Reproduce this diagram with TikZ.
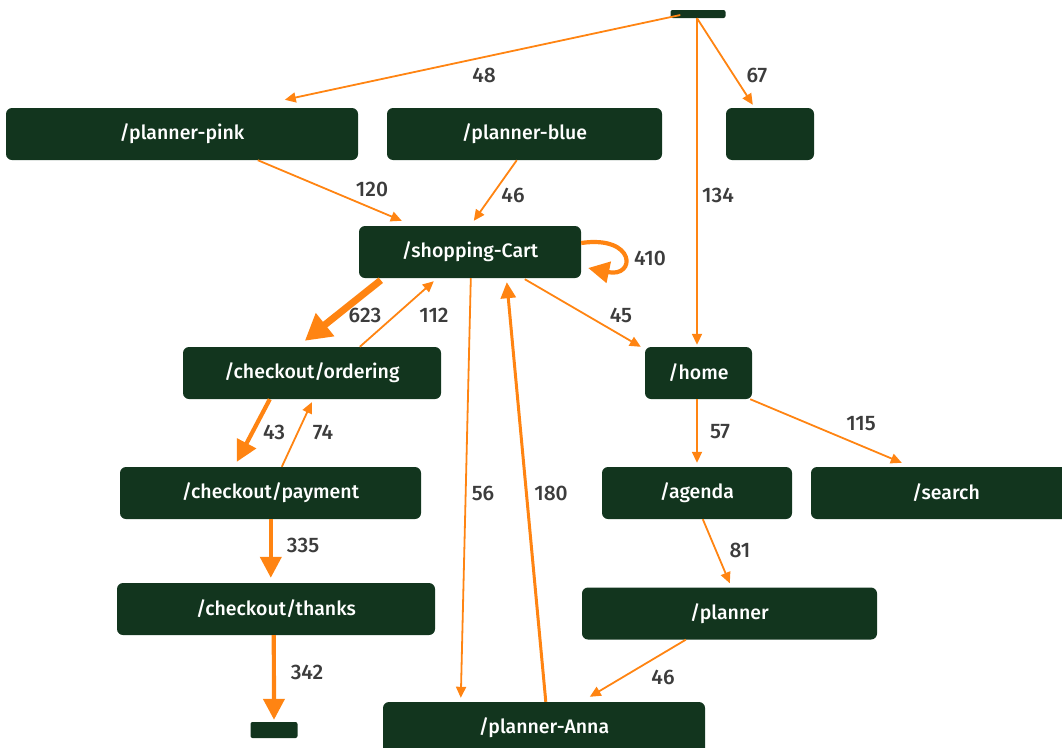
\documentclass[tikz,border=0pt]{standalone}
\usepackage{fontspec}
\setmainfont{Fira Sans}
\newfontfamily\medfont{Fira Sans}[UprightFont=* Medium]
\usepackage{xcolor}
\usetikzlibrary{arrows.meta,positioning,calc}
\definecolor{pagegreen}{HTML}{12351E}
\definecolor{floworange}{HTML}{FF8412}
\definecolor{labelgray}{HTML}{3C3C3C}

\begin{document}
\begin{tikzpicture}[
  x=1pt, y=-1pt,
  page/.style={fill=pagegreen, rounded corners=6pt, inner sep=0pt, minimum height=52pt, text=white, font=\medfont\fontsize{19.5}{22}\selectfont},
  stub/.style={fill=pagegreen, rounded corners=2pt, inner sep=0pt},
  flow/.style={draw=floworange, line width=1.8pt, -{Triangle[length=11pt, width=10pt]}},
  midflow/.style={flow, line width=3pt, -{Triangle[length=16pt, width=15pt]}},
  heavy/.style={flow, line width=4.2pt, -{Triangle[length=21pt, width=21pt]}},
  heaviest/.style={flow, line width=7pt, -{Triangle[length=26pt, width=28pt]}},
  count/.style={text=labelgray, font=\medfont\fontsize{21}{24}\selectfont}
]
\useasboundingbox (0,0) rectangle (1062,747);

% pages
\node[stub, minimum width=55pt, minimum height=8pt] (src) at (698,14) {};
\node[page, minimum width=352pt] (pink) at (182,134) {/planner-pink};
\node[page, minimum width=275pt] (blue) at (524.5,134) {/planner-blue};
\node[page, minimum width=88pt] (blank) at (770,134) {};
\node[page, minimum width=222pt] (cart) at (470,252) {/shopping-Cart};
\node[page, minimum width=258pt] (ordering) at (312,373) {/checkout/ordering};
\node[page, minimum width=107pt] (home) at (698.5,373) {/home};
\node[page, minimum width=301pt] (payment) at (270.5,493) {/checkout/payment};
\node[page, minimum width=190pt] (agenda) at (697,493) {/agenda};
\node[page, minimum width=270pt] (search) at (946,493) {/search};
\node[page, minimum width=318pt] (thanks) at (276,609) {/checkout/thanks};
\node[page, minimum width=295pt] (planner) at (729.5,613.5) {/planner};
\node[page, minimum width=322pt] (anna) at (544,728) {/planner-Anna};
\node[stub, minimum width=47pt, minimum height=16pt] (sink) at (274,730) {};

% flows
\draw[flow] ($(src.west)+(10,1)$) -- ($(pink.north west)+(279,-8)$);
\draw[flow] ($(src.south)+(-1,0)$) -- ($(blank.north west)+(27,-3)$);
\draw[flow] ($(src.south)+(-1,0)$) -- ($(home.north)+(-1.5,-2)$);
\draw[flow] ($(pink.south west)+(252,0)$) -- ($(cart.north west)+(43,-5)$);
\draw[flow] ($(blue.south west)+(130,0)$) -- ($(cart.north west)+(115,-5)$);
\draw[heavy] ($(cart.east)+(0,-9)$) .. controls +(55,-8) and +(48,10) .. ($(cart.east)+(7,16)$);
\draw[heaviest] ($(cart.south west)+(22,2)$) -- ($(ordering.north west)+(122,-6)$);
\draw[flow] ($(ordering.north west)+(177,0)$) -- ($(cart.south west)+(75,3)$);
\draw[flow] ($(cart.south west)+(166,1)$) -- ($(home.north west)+(-4,0)$);
\draw[flow] ($(cart.south west)+(112,0)$) -- ($(anna.north west)+(78,-4)$);
\draw[midflow] ($(anna.north west)+(163,0)$) -- ($(cart.south west)+(148,4)$);
\draw[heavy] ($(ordering.south west)+(87,0)$) -- ($(payment.north west)+(117,-5)$);
\draw[flow] ($(payment.north west)+(162,0)$) -- ($(ordering.south west)+(129,3)$);
\draw[heavy] ($(payment.south west)+(151,0)$) -- ($(thanks.north west)+(154,-5)$);
\draw[heavy] ($(thanks.south west)+(157,0)$) -- ($(sink.north)+(0,-2)$);
\draw[flow] ($(home.south)+(-1.5,0)$) -- ($(agenda.north)+(0,-4)$);
\draw[flow] ($(home.south east)+(-2,0)$) -- ($(search.north west)+(91,-4)$);
\draw[flow] ($(agenda.south west)+(101,0)$) -- ($(planner.north west)+(148,-4)$);
\draw[flow] ($(planner.south west)+(104,0)$) -- ($(anna.north west)+(207,-5)$);

% counts
\node[count] (c48) at (484,75) {48};
\node[count] (c67) at (757,75) {67};
\node[count] (c134) at (718,195) {134};
\node[count] (c120) at (372,189) {120};
\node[count] (c46a) at (513,195) {46};
\node[count] (c410) at (650,258) {410};
\node[count] (c623) at (365,315) {623};
\node[count] (c112) at (434,315) {112};
\node[count] (c45) at (621,315) {45};
\node[count] (c56) at (483,493) {56};
\node[count] (c180) at (551,493) {180};
\node[count] (c43) at (274,432) {43};
\node[count] (c74) at (323,432) {74};
\node[count] (c335) at (303,545) {335};
\node[count] (c342) at (307,672) {342};
\node[count] (c57) at (720,432) {57};
\node[count] (c115) at (861,424) {115};
\node[count] (c81) at (740,550) {81};
\node[count] (c46b) at (663,677) {46};
\end{tikzpicture}
\end{document}
